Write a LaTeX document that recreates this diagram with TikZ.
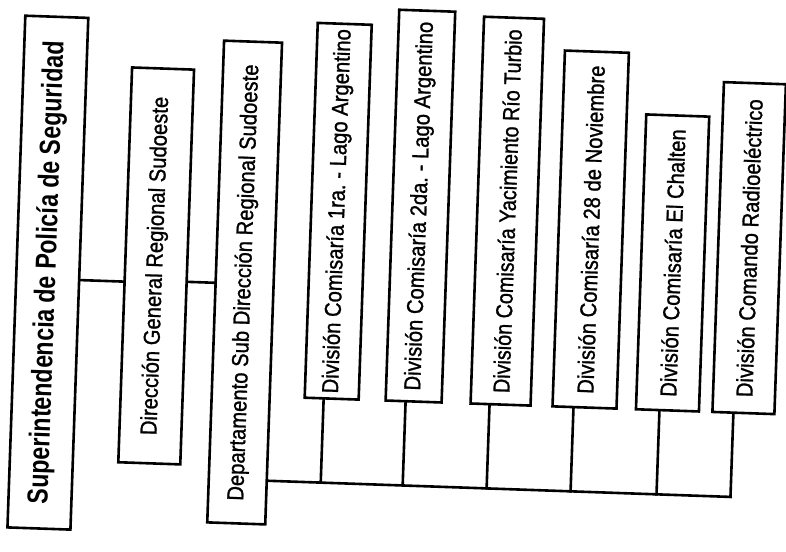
\documentclass[tikz,border=0pt]{standalone}
\usepackage{fontspec}
\setmainfont{Liberation Sans}
\newfontface\epais[FakeBold=1.2]{Liberation Sans}
\usetikzlibrary{calc}
\newcommand{\vtexte}[2][0.88]{\rotatebox{90}{\scalebox{#1}[1]{#2}}}
\begin{document}
\begin{tikzpicture}[x=1pt,y=-1pt,
  boite/.style={draw,line width=2.6pt,inner sep=0pt,minimum width=58pt,anchor=south,font=\epais\fontsize{23}{27}\selectfont},
  trait/.style={line width=2.6pt,line cap=rect}]

\useasboundingbox (0,0) rectangle (786,551);
\fill[white] (0,0) rectangle (786,551);

\begin{scope}[rotate around={-2:(393,275)},transform shape] %la feuille est un peu de travers
\node (sup) [boite,minimum width=63pt,minimum height=512pt,font=\bfseries\fontsize{29}{34}\selectfont] at (48,542) {\vtexte[0.8]{Superintendencia de Policía de Seguridad}};
\node (dir) [boite,minimum width=62pt,minimum height=395pt] at (156,473) {\vtexte{Dirección General Regional Sudoeste}};
\node (dep) [boite,minimum height=482pt] at (245,530) {\vtexte{Departamento Sub Dirección Regional Sudoeste}};

\node (c1) [boite,minimum width=54pt,minimum height=375pt] at (336,402) {\vtexte{División Comisaría 1ra.~-~Lago Argentino}};
\node (c2) [boite,minimum width=56pt,minimum height=391pt] at (418,402) {\vtexte{División Comisaría 2da.~-~Lago Argentino}};
\node (yac) [boite,minimum width=60pt,minimum height=387pt] at (505,402) {\vtexte[0.86]{División Comisaría Yacimiento Río Turbio}};
\node (nov) [boite,minimum width=64pt,minimum height=356pt] at (589,402) {\vtexte{División Comisaría 28 de Noviembre}};
\node (cha) [boite,minimum width=63pt,minimum height=295pt] at (672,402) {\vtexte{División Comisaría El Chalten}};
\node (rad) [boite,minimum width=62pt,minimum height=330pt] at (748,402) {\vtexte{División Comando Radioeléctrico}};

\coordinate (l1) at (100,291);
\coordinate (l2) at (200,289);
\draw[trait] ($(sup.north east)!(l1)!(sup.south east)$) -- ($(dir.north west)!(l1)!(dir.south west)$);
\draw[trait] ($(dir.north east)!(l2)!(dir.south east)$) -- ($(dep.north west)!(l2)!(dep.south west)$);

\coordinate (j1) at (328,485);
\coordinate (j2) at (410,485);
\coordinate (j3) at (494,485);
\coordinate (j4) at (578,485);
\coordinate (j5) at (664,485);
\coordinate (j6) at (738,485);
\draw[trait] ($(dep.north east)!(j1)!(dep.south east)$) -- (j6);
\foreach \b/\j in {c1/j1,c2/j2,yac/j3,nov/j4,cha/j5,rad/j6}
  \draw[trait] (\j) -- ($(\b.south west)!(\j)!(\b.south east)$);
\end{scope}
\end{tikzpicture}
\end{document}
